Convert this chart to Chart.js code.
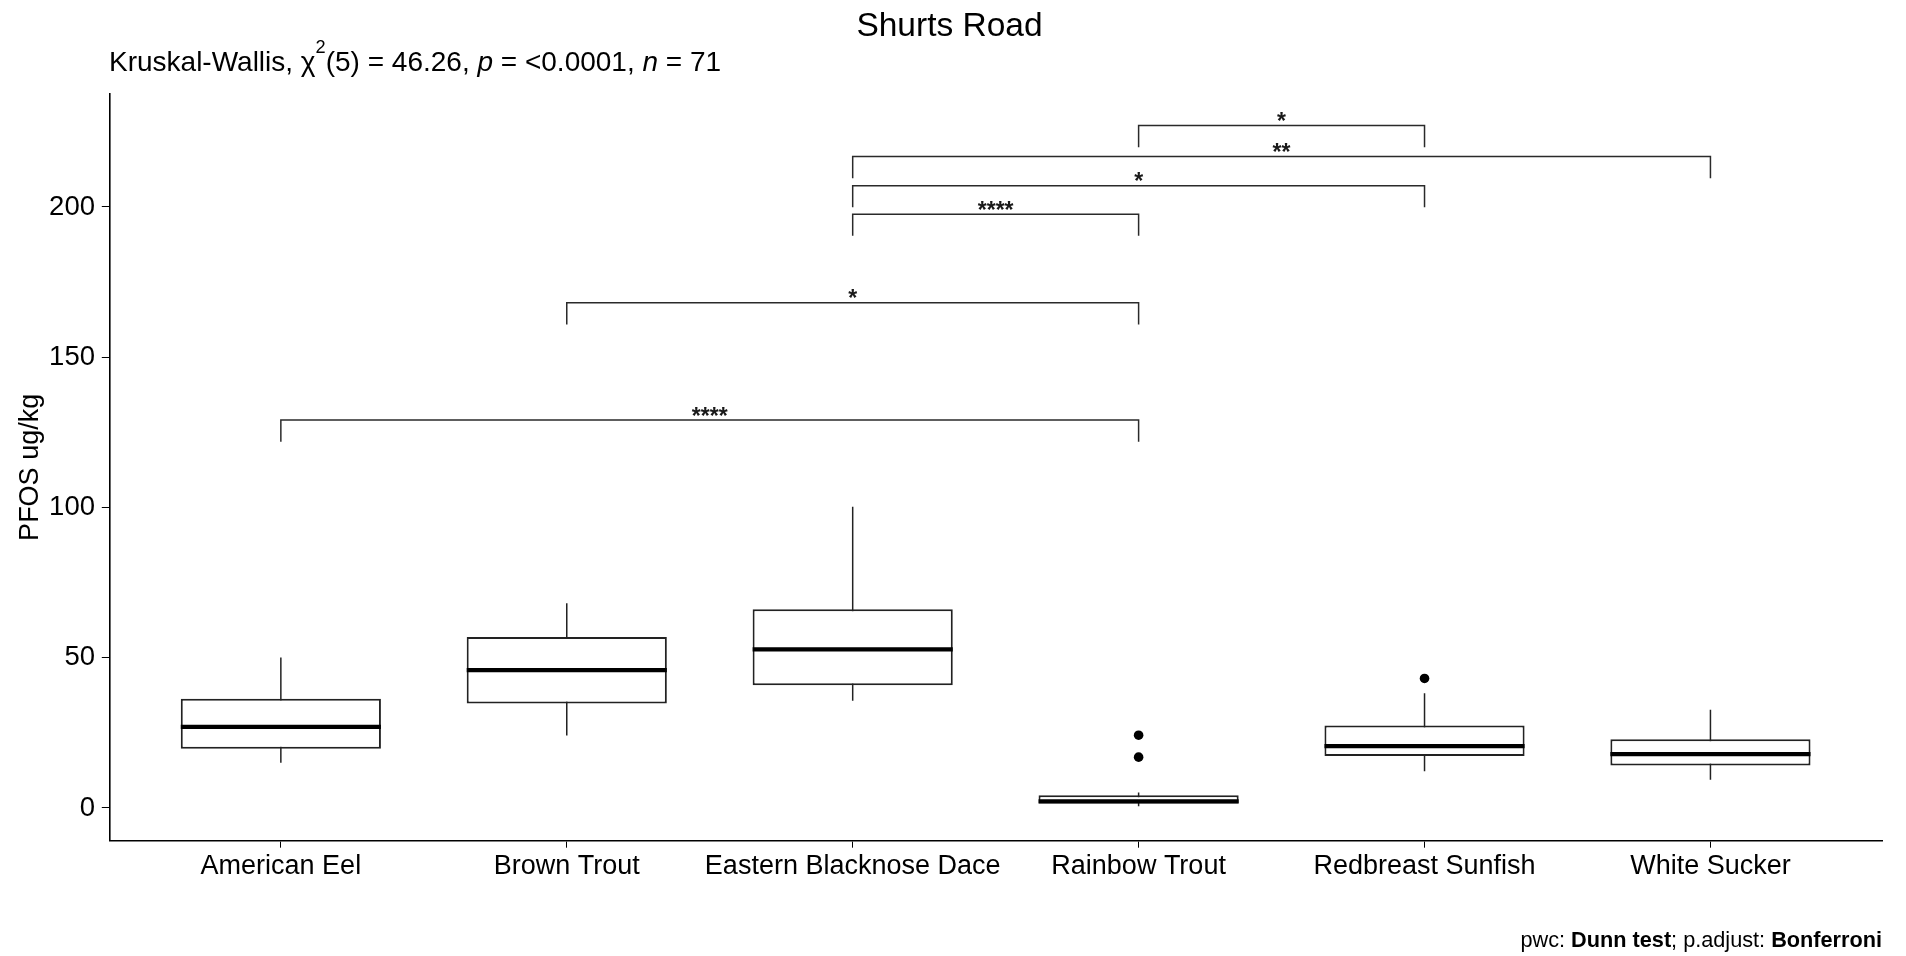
<!DOCTYPE html>
<html>
<head>
<meta charset="utf-8">
<title>Shurts Road</title>
<script src="https://cdn.jsdelivr.net/npm/chart.js@4.4.1/dist/chart.umd.min.js"></script>
<style>
  html, body { margin: 0; padding: 0; background: #fff; }
  #wrap { width: 1906px; height: 956px; position: relative; }
</style>
</head>
<body>
<div id="wrap"><canvas id="pfos-chart"></canvas></div>
<script>
// PFOS (ug/kg) by species at Shurts Road
const species = ['American Eel', 'Brown Trout', 'Eastern Blacknose Dace', 'Rainbow Trout', 'Redbreast Sunfish', 'White Sucker'];
const whiskerLow = [15.0, 24.1, 35.7, 0.6, 12.2, 9.4];
const lowerQuartile = [19.7, 34.8, 40.8, 1.5, 17.3, 14.1];
const medianValue = [27.0, 45.9, 52.8, 2.2, 20.6, 17.9];
const upperQuartile = [36.3, 56.9, 66.1, 4.2, 27.4, 22.9];
const whiskerHigh = [50.1, 68.1, 100.2, 5.1, 38.2, 32.7];

const outlierSpecies = [3, 3, 4];
const outlierValue = [24.2, 16.9, 43.1];

// Dunn test pairwise comparisons (species index pairs)
const bracketFrom = [3, 2, 2, 2, 1, 0];
const bracketTo = [4, 5, 4, 3, 3, 3];
const bracketHeight = [227.1, 216.8, 207.1, 197.6, 168.1, 129.1];
const bracketStars = ['*', '**', '*', '****', '*', '****'];

const yTicks = [0, 50, 100, 150, 200];

const FONT = '"Liberation Sans", Arial, sans-serif';
const BOX_WIDTH = 0.7;
const TIP = 7.2;

Chart.defaults.font.family = FONT;
Chart.defaults.color = '#000';

const whiskerPoints = [];
const medianPoints = [];
species.forEach((_, i) => {
    whiskerPoints.push({x: i, y: whiskerLow[i]}, {x: i, y: whiskerHigh[i]}, {x: i, y: null});
    medianPoints.push({x: i - BOX_WIDTH / 2, y: medianValue[i]}, {x: i + BOX_WIDTH / 2, y: medianValue[i]}, {x: i, y: null});
});

const bracketPoints = [];
bracketFrom.forEach((from, i) => {
    const to = bracketTo[i];
    const h = bracketHeight[i];
    bracketPoints.push({x: from, y: h - TIP}, {x: from, y: h}, {x: to, y: h}, {x: to, y: h - TIP}, {x: to, y: null});
});

const drawRuns = (ctx, runs, x, y, size) => {
    let cx = x;
    runs.forEach(r => {
        const fs = r.sup ? size * 0.65 : size;
        ctx.font = (r.italic ? 'italic ' : '') + (r.bold ? 'bold ' : '') + fs + 'px ' + FONT;
        ctx.fillText(r.text, cx, r.sup ? y - 18.5 : y);
        cx += ctx.measureText(r.text).width;
    });
    return cx - x;
};

const subtitleRuns = [
    {text: 'Kruskal-Wallis, '},
    {text: 'χ'},
    {text: '2', sup: true},
    {text: '(5) = 46.26, '},
    {text: 'p', italic: true},
    {text: ' = <0.0001, '},
    {text: 'n', italic: true},
    {text: ' = 71'},
];

const footerRuns = [
    {text: 'pwc: '},
    {text: 'Dunn test', bold: true},
    {text: '; p.adjust: '},
    {text: 'Bonferroni', bold: true},
];

const extraText = {
    id: 'extraText',
    afterDatasetsDraw(chart) {
        const {ctx, scales: {x, y}} = chart;
        ctx.save();
        ctx.fillStyle = '#1a1a1a';
        ctx.font = 'bold 23px ' + FONT;
        ctx.textAlign = 'center';
        ctx.textBaseline = 'alphabetic';
        bracketStars.forEach((s, i) => {
            const px = x.getPixelForValue((bracketFrom[i] + bracketTo[i]) / 2);
            const py = y.getPixelForValue(bracketHeight[i]);
            ctx.fillText(s, px, py + 3.5);
        });
        ctx.restore();
    },
    afterDraw(chart) {
        const {ctx} = chart;
        ctx.save();
        ctx.fillStyle = '#000';
        ctx.textAlign = 'left';
        ctx.textBaseline = 'alphabetic';
        drawRuns(ctx, subtitleRuns, 109, 71, 28);

        // footer, right aligned
        ctx.globalAlpha = 0;
        const w = drawRuns(ctx, footerRuns, 0, -100, 21.7);
        ctx.globalAlpha = 1;
        drawRuns(ctx, footerRuns, 1882 - w, 947, 21.7);
        ctx.restore();
    }
};

new Chart(document.getElementById('pfos-chart'), {
    type: 'bar',
    data: {
        datasets: [
            {
                type: 'line',
                data: whiskerPoints,
                borderColor: '#222',
                borderWidth: 1.5,
                pointRadius: 0,
                spanGaps: false,
                order: 4,
            },
            {
                type: 'bar',
                data: species.map((_, i) => ({x: i, y: [lowerQuartile[i], upperQuartile[i]]})),
                backgroundColor: '#fff',
                borderColor: '#222',
                borderWidth: 2,
                borderSkipped: false,
                barPercentage: BOX_WIDTH,
                categoryPercentage: 1,
                order: 3,
            },
            {
                type: 'line',
                data: medianPoints,
                borderColor: '#000',
                borderWidth: 4.2,
                borderCapStyle: 'butt',
                pointRadius: 0,
                spanGaps: false,
                order: 2,
            },
            {
                type: 'scatter',
                data: outlierSpecies.map((s, i) => ({x: s, y: outlierValue[i]})),
                backgroundColor: '#000',
                borderWidth: 0,
                pointRadius: 4.8,
                order: 1,
            },
            {
                type: 'line',
                data: bracketPoints,
                borderColor: '#2a2a2a',
                borderWidth: 1.5,
                pointRadius: 0,
                spanGaps: false,
                order: 0,
            },
        ]
    },
    options: {
        responsive: true,
        maintainAspectRatio: false,
        animation: false,
        events: [],
        layout: {
            padding: {left: 17, right: 24, top: 0, bottom: 55.3}
        },
        plugins: {
            legend: {display: false},
            tooltip: {enabled: false},
            title: {
                display: true,
                text: 'Shurts Road',
                color: '#000',
                font: {size: 33.5, weight: 'normal'},
                padding: {top: 7.1, bottom: 46.7},
            },
        },
        scales: {
            x: {
                type: 'linear',
                min: -0.6,
                max: 5.6,
                offset: false,
                afterBuildTicks: s => { s.ticks = species.map((_, i) => ({value: i})); },
                afterFit: s => { s.height = 60; },
                ticks: {
                    callback: v => species[v],
                    font: {size: 27},
                    color: '#000',
                    padding: 3,
                    maxRotation: 0,
                    autoSkip: false,
                },
                grid: {display: true, drawOnChartArea: false, drawTicks: true, tickLength: 7, color: '#000', offset: false},
                border: {display: true, color: '#000', width: 1.6},
            },
            y: {
                type: 'linear',
                min: -10.9,
                max: 237.6,
                afterBuildTicks: s => { s.ticks = yTicks.map(v => ({value: v})); },
                afterFit: s => { s.width = 92.3; },
                ticks: {
                    font: {size: 27.5},
                    color: '#000',
                    padding: 6.8,
                },
                grid: {display: true, drawOnChartArea: false, drawTicks: true, tickLength: 7.5, color: '#000'},
                border: {display: true, color: '#000', width: 1.6},
                title: {
                    display: true,
                    text: 'PFOS ug/kg',
                    color: '#000',
                    font: {size: 27, lineHeight: 1},
                    padding: 0,
                },
            },
        },
    },
    plugins: [extraText],
});
</script>
</body>
</html>
